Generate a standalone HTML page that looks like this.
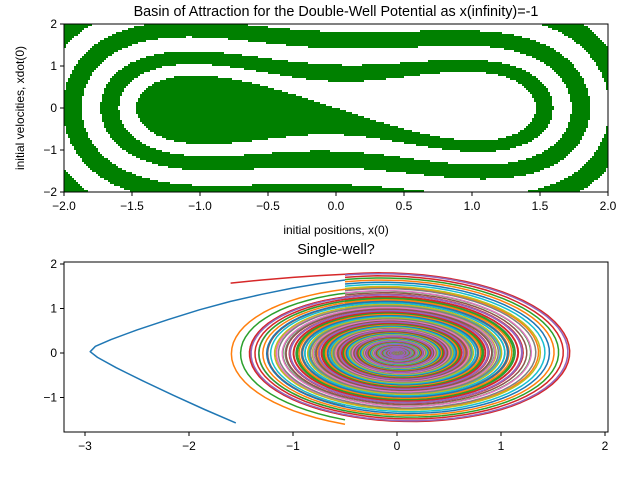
<!DOCTYPE html>
<html><head><meta charset="utf-8">
<style>
html,body{margin:0;padding:0;background:#fff;}
body{width:640px;height:480px;position:relative;overflow:hidden;font-family:"Liberation Sans","DejaVu Sans",sans-serif;}
#basin{position:absolute;left:64px;top:24px;width:544px;height:168px;image-rendering:pixelated;}
svg{position:absolute;left:0;top:0;}
</style></head>
<body>
<canvas id="basin" width="272" height="84"></canvas>
<svg id="fig" width="640" height="480"></svg>
<script>
// ---- data ----
const basinXRange = [-2, 2];
const basinVRange = [-2, 2];
const damping = [0.11];
const topXTicks = [-2.0, -1.5, -1.0, -0.5, 0.0, 0.5, 1.0, 1.5, 2.0];
const topYTicks = [-2, -1, 0, 1, 2];
const botXTicks = [-3, -2, -1, 0, 1, 2];
const botYTicks = [-1, 0, 1, 2];
const spiralStartX = [-0.5];
const spiralV0 = [-1.6,-1.5,-1.4,-1.3,-1.2,-1.1,-1.0,-0.9,-0.8,-0.7,-0.6,-0.5,-0.4,-0.3,-0.2,-0.1,0.0,0.1,0.2,0.3,0.4,0.5,0.6,0.7,0.8,0.85,0.9,0.95,1.0,1.05,1.1,1.15,1.2,1.25,1.3,1.35,1.4,1.45,1.5,1.55,1.6,1.65,1.7,1.75];
const spiralDamping = [0.1];
const redSpiralV0 = [1.77];
const blueTailX = [-1.55,-1.85,-2.15,-2.45,-2.7,-2.88,-2.95,-2.9,-2.75,-2.5,-2.2,-1.9,-1.6,-1.3,-1.0,-0.75,-0.5];
const blueTailY = [-1.57,-1.27,-0.95,-0.62,-0.33,-0.1,0.03,0.15,0.3,0.52,0.75,0.97,1.16,1.32,1.46,1.56,1.64];
const redTailX = [-1.6,-1.3,-1.0,-0.75,-0.5];
const redTailY = [1.57,1.64,1.7,1.74,1.77];

// ---- basin computation ----
(function(){
  const cv=document.getElementById('basin'),ctx=cv.getContext('2d');
  const W=cv.width,H=cv.height,img=ctx.createImageData(W,H),d=damping[0];
  const f=(x,v)=>x-x*x*x-d*v;
  for(let j=0;j<H;j++)for(let i=0;i<W;i++){
    let x=basinXRange[0]+(i+0.5)/W*(basinXRange[1]-basinXRange[0]);
    let v=basinVRange[1]-(j+0.5)/H*(basinVRange[1]-basinVRange[0]);
    const h=0.03;
    for(let s=0;s<8000;s++){
      const E=v*v/2-x*x/2+x*x*x*x/4;
      if(E<-0.02)break;
      const k1x=v,k1v=f(x,v);
      const k2x=v+h/2*k1v,k2v=f(x+h/2*k1x,v+h/2*k1v);
      const k3x=v+h/2*k2v,k3v=f(x+h/2*k2x,v+h/2*k2v);
      const k4x=v+h*k3v,k4v=f(x+h*k3x,v+h*k3v);
      x+=h/6*(k1x+2*k2x+2*k3x+k4x);v+=h/6*(k1v+2*k2v+2*k3v+k4v);
    }
    const p=(j*W+i)*4;
    if(x<0){img.data[p]=0;img.data[p+1]=128;img.data[p+2]=0;}else{img.data[p]=255;img.data[p+1]=255;img.data[p+2]=255;}
    img.data[p+3]=255;
  }
  ctx.putImageData(img,0,0);
})();

// ---- svg ----
const NS='http://www.w3.org/2000/svg',svg=document.getElementById('fig');
function mk(t,a,parent){const e=document.createElementNS(NS,t);for(const k in a)e.setAttribute(k,a[k]);(parent||svg).appendChild(e);return e;}
function txt(s,a){const e=mk('text',a);e.textContent=s;return e;}
const fmt1=v=>(v<0?'\u2212':'')+Math.abs(v).toFixed(1);
const fmt0=v=>(v<0?'\u2212':'')+Math.abs(v);

// top axes
const tx=v=>64+(v-basinXRange[0])/(basinXRange[1]-basinXRange[0])*544;
const ty=v=>192-(v-basinVRange[0])/(basinVRange[1]-basinVRange[0])*168;
let r=mk('rect',{x:64,y:24,width:544,height:168,fill:'none',stroke:'#000','stroke-width':1});

topXTicks.forEach(v=>{const X=tx(v);const l=mk('line',{x1:X,x2:X,y1:192,y2:196,stroke:'#000'});
 const t=txt(fmt1(v),{x:X,y:210,'font-size':12,'text-anchor':'middle'});});
topYTicks.forEach(v=>{const Y=ty(v);const l=mk('line',{x1:60,x2:64,y1:Y,y2:Y,stroke:'#000'});
 const t=txt(fmt0(v),{x:57,y:Y+4,'font-size':12,'text-anchor':'end'});});
let t1=txt('Basin of Attraction for the Double-Well Potential as x(infinity)=-1',{x:336,y:16,'font-size':14.4,'text-anchor':'middle'});

let t2=txt('initial positions, x(0)',{x:336,y:234,'font-size':12,'text-anchor':'middle'});

let t3=txt('initial velocities, xdot(0)',{x:0,y:0,'font-size':12,'text-anchor':'middle',transform:'translate(24,108) rotate(-90)'});


// bottom axes
const bx=v=>397+v*104;
const by=v=>353-v*44.5;
const clip=mk('clipPath',{id:'bc'});mk('rect',{x:64,y:262,width:544,height:170},clip);
const g=mk('g',{'clip-path':'url(#bc)'});
const colors=['#1f77b4','#ff7f0e','#2ca02c','#d62728','#9467bd','#8c564b','#e377c2','#7f7f7f','#bcbd22','#17becf'];
function poly(xs,ys,c,name){let s='';for(let i=0;i<xs.length;i++)s+=bx(xs[i]).toFixed(1)+','+by(ys[i]).toFixed(1)+' ';
 const p=mk('polyline',{points:s,fill:'none',stroke:c,'stroke-width':1.5,'stroke-linejoin':'round'},g);}
function spiral(v0){let x=spiralStartX[0],v=v0;const xs=[x],ys=[v],h=0.02,dd=spiralDamping[0];
  for(let s=0;s<3500;s++){const a=-x-dd*v;v+=a*h;x+=v*h;if(s%4==0){xs.push(x);ys.push(v);}}return [xs,ys];}
poly(blueTailX,blueTailY,colors[0],'blue-trajectory-tail');
poly(redTailX,redTailY,colors[3],'red-trajectory-tail');
{const s=spiral(redSpiralV0[0]);poly(s[0],s[1],colors[3],'red-outer-spiral');}
spiralV0.forEach((v0,k)=>{
  const s=spiral(v0);
  poly(s[0],s[1],colors[(k+1)%10],'spiral-trajectory');
});
r=mk('rect',{x:64,y:262,width:544,height:170,fill:'none',stroke:'#000','stroke-width':1});

botXTicks.forEach(v=>{const X=bx(v);const l=mk('line',{x1:X,x2:X,y1:432,y2:436,stroke:'#000'});
 const t=txt(fmt0(v),{x:X,y:450,'font-size':12,'text-anchor':'middle'});});
botYTicks.forEach(v=>{const Y=by(v);const l=mk('line',{x1:60,x2:64,y1:Y,y2:Y,stroke:'#000'});
 const t=txt(fmt0(v),{x:57,y:Y+4,'font-size':12,'text-anchor':'end'});});
let t4=txt('Single-well?',{x:336,y:254,'font-size':14.4,'text-anchor':'middle'});

</script>
</body></html>
